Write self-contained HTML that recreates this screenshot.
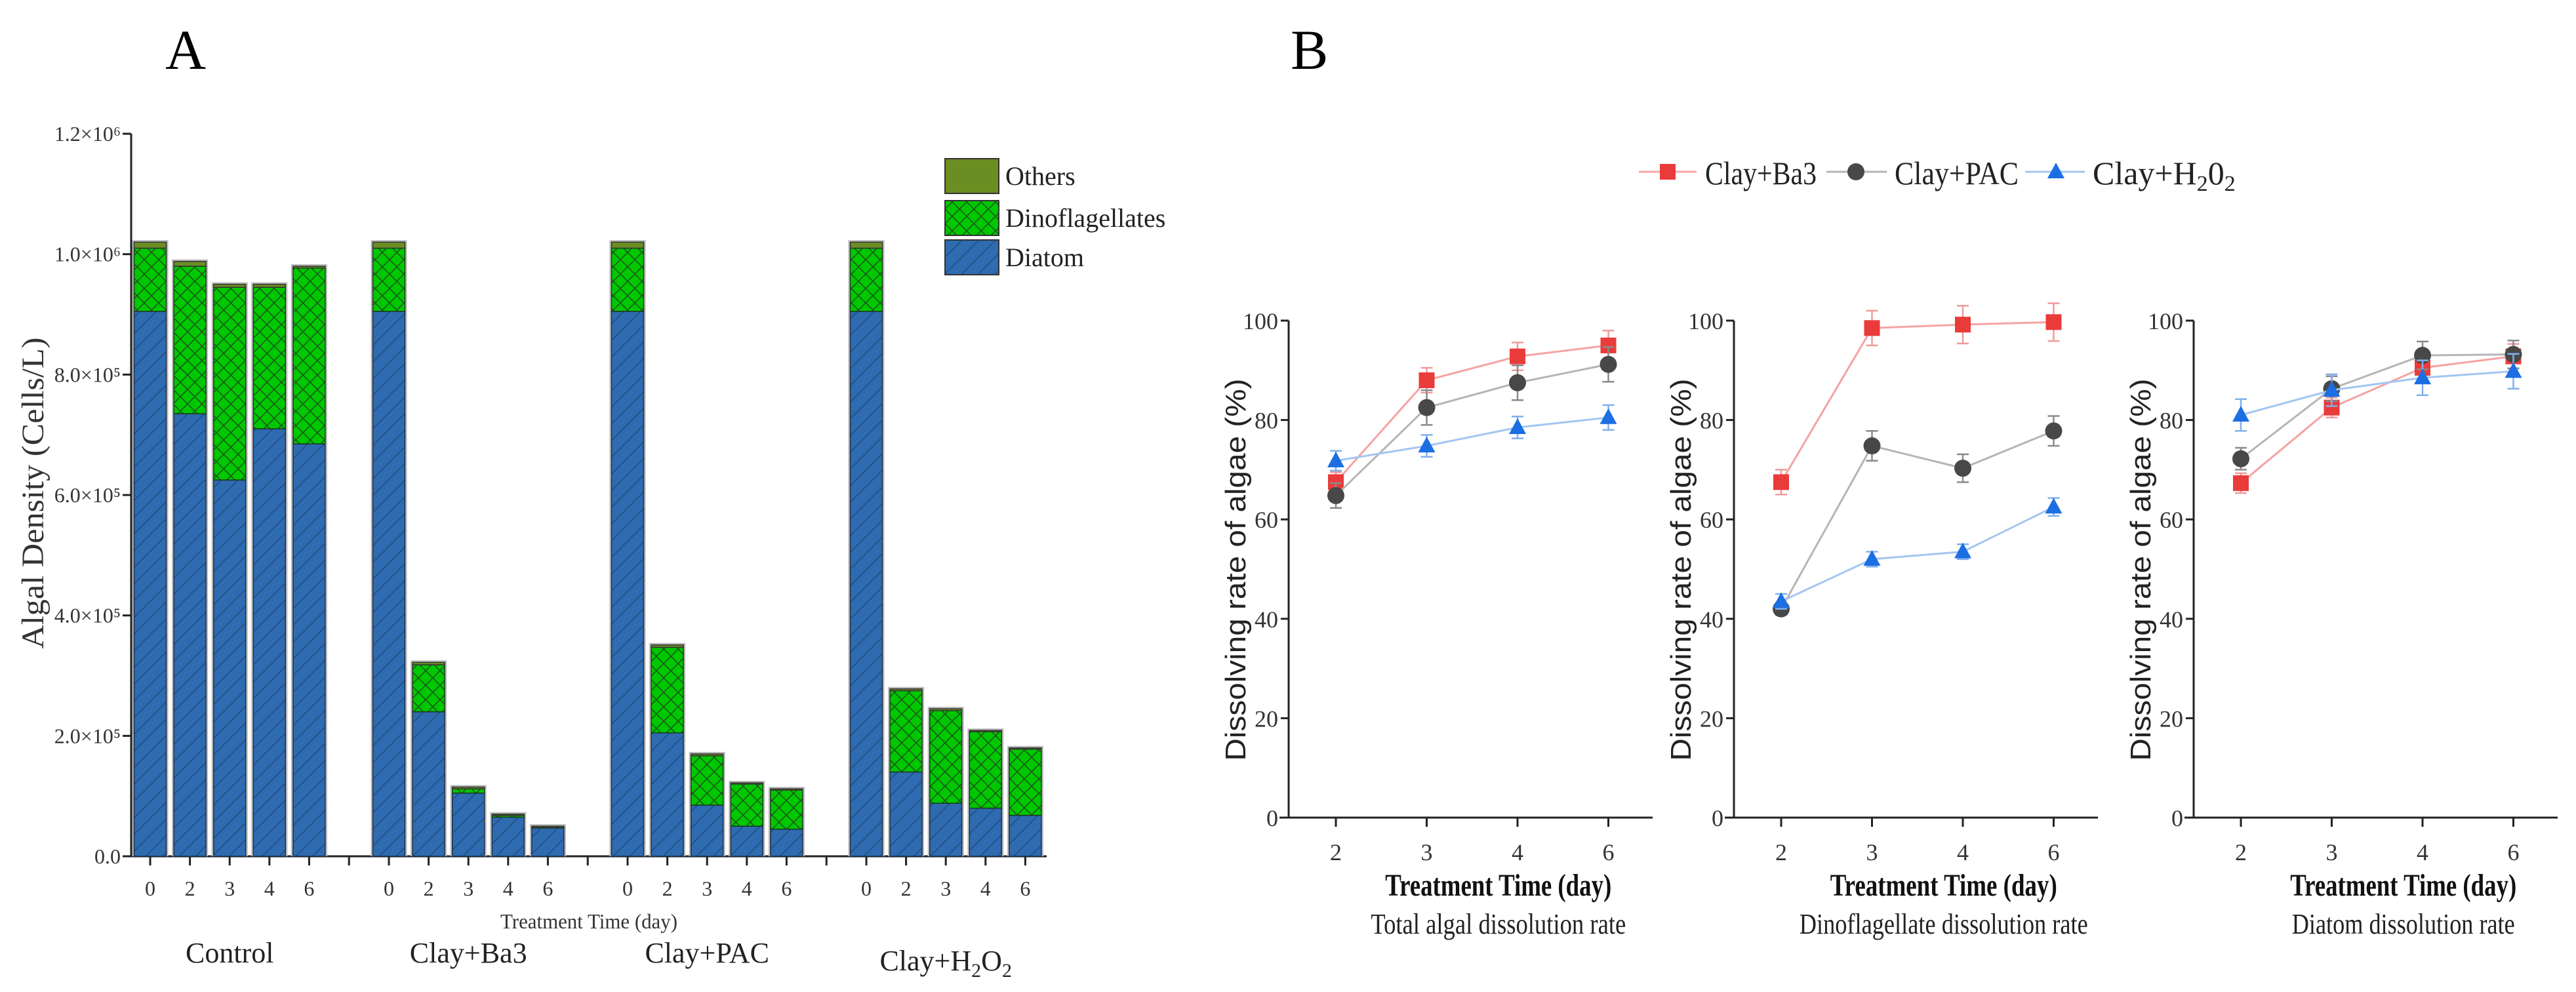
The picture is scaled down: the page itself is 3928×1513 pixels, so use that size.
<!DOCTYPE html>
<html><head><meta charset="utf-8"><style>
html,body{margin:0;padding:0;background:#fff;}
svg{display:block;}
</style></head><body>
<svg id="fig" width="3928" height="1513" viewBox="0 0 3928 1513" xmlns="http://www.w3.org/2000/svg" font-family="Liberation Serif, serif">
<defs>
<pattern id="diag" patternUnits="userSpaceOnUse" width="18" height="18" patternTransform="rotate(45)">
<rect width="18" height="18" fill="#2e6bb0"/><line x1="0" y1="0" x2="0" y2="18" stroke="#1d3f6a" stroke-width="2"/>
</pattern>
<pattern id="cross" patternUnits="userSpaceOnUse" width="22" height="22">
<rect width="22" height="22" fill="#00c800"/><path d="M0 0L22 22M22 0L0 22" stroke="#1a5a1a" stroke-width="1.6"/>
</pattern>
</defs>
<text x="252" y="105" font-size="86">A</text>
<text x="1968" y="105" font-size="86">B</text>
<g id="barChart"></g>
<g id="lineCharts"></g>
</svg>
<script>
// ---- Panel A data (cells/L, in units of 1e5) ----
const groups = ["Control", "Clay+Ba3", "Clay+PAC", "Clay+H2O2"];
const days = ["0", "2", "3", "4", "6"];
const diatom = [[9.05,7.35,6.25,7.10,6.85],[9.05,2.40,1.05,0.65,0.47],[9.05,2.05,0.85,0.50,0.45],[9.05,1.40,0.88,0.80,0.68]];
const dinoflagellates = [[1.05,2.45,3.20,2.35,2.92],[1.05,0.78,0.07,0.03,0.01],[1.05,1.42,0.82,0.70,0.65],[1.05,1.35,1.54,1.27,1.10]];
const others = [[0.10,0.08,0.05,0.05,0.03],[0.10,0.04,0.03,0.02,0.02],[0.10,0.04,0.03,0.02,0.02],[0.10,0.03,0.03,0.02,0.02]];
const yTicksA = [0,2,4,6,8,10,12];
const yTickLabelsA = ["0.0","2.0×10⁵","4.0×10⁵","6.0×10⁵","8.0×10⁵","1.0×10⁶","1.2×10⁶"];
// ---- Panel B data (%) ----
const bDays = ["2","3","4","6"];
const panelTitles = ["Total algal dissolution rate","Dinoflagellate dissolution rate","Diatom dissolution rate"];
const ba3 = [[67.5,88,92.8,95],[67.5,98.5,99.2,99.7],[67.3,82.5,90.5,92.8]];
const pac = [[64.8,82.5,87.5,91.2],[42,74.8,70.3,77.8],[72.2,86.3,93,93.2]];
const h2o2 = [[71.8,74.8,78.5,80.5],[43.5,52,53.5,62.5],[81,86,88.5,89.8]];
const ba3Err = [[2,2.5,2.8,3],[2.5,3.5,3.8,3.8],[2,2,2.5,2.5]];
const pacErr = [[2.5,3.5,3.5,3.5],[1.2,3,2.8,3],[2.2,2.5,2.8,2.8]];
const h2o2Err = [[2,2.2,2.2,2.5],[1.5,1.5,1.5,1.8],[3.2,3.2,3.5,3.5]];
const yTicksB = [0,20,40,60,80,100];

const NS="http://www.w3.org/2000/svg";
function mk(tag,attrs,parent,text){const e=document.createElementNS(NS,tag);for(const k in attrs)e.setAttribute(k,attrs[k]);if(text!==undefined)e.textContent=text;parent.appendChild(e);return e;}

// ---------- Panel A ----------
const A=document.getElementById('barChart');
const ay0=1306, ay1=204, ayMax=12, ax0=200;
const yA=v=>ay0-(v/ayMax)*(ay0-ay1);
const xA=(g,i)=>229+g*364+i*60.6;
const bw=49;
mk('line',{x1:ax0,y1:ay1,x2:ax0,y2:ay0,stroke:'#222','stroke-width':3},A);
mk('line',{x1:188,y1:ay0,x2:1596,y2:ay0,stroke:'#222','stroke-width':3},A);
yTicksA.forEach((t,k)=>{
  const y=yA(t);
  mk('line',{x1:187,y1:y,x2:ax0,y2:y,stroke:'#222','stroke-width':3},A);
  const tx=mk('text',{x:184,y:y+11,'font-size':32,'text-anchor':'end',fill:'#333'},A,yTickLabelsA[k]);
  
  
});
const yt=mk('text',{x:0,y:0,'font-size':48,'text-anchor':'middle',transform:'translate(66,752) rotate(-90)',fill:'#333',textLength:475,lengthAdjust:'spacingAndGlyphs'},A,'Algal Density (Cells/L)');


groups.forEach((gname,g)=>{
  days.forEach((d,i)=>{
    const cx=xA(g,i), x=cx-bw/2;
    const v1=diatom[g][i], v2=v1+dinoflagellates[g][i], v3=v2+others[g][i];
    mk('rect',{x:x-3,y:yA(v3)-3,width:bw+6,height:ay0-yA(v3)+3,fill:'#bbb'},A);
    const r1=mk('rect',{x:x,y:yA(v1),width:bw,height:ay0-yA(v1),fill:'url(#diag)',stroke:'#1c2f4a','stroke-width':1.5},A);
    
    
    const r2=mk('rect',{x:x,y:yA(v2),width:bw,height:yA(v1)-yA(v2),fill:'url(#cross)',stroke:'#1c3a1c','stroke-width':1.5},A);
    
    
    const r3=mk('rect',{x:x,y:yA(v3),width:bw,height:yA(v2)-yA(v3),fill:'#6b8e23',stroke:'#333','stroke-width':1.5},A);
    
    
    mk('line',{x1:cx,y1:ay0,x2:cx,y2:ay0+14,stroke:'#222','stroke-width':3},A);
    const tl=mk('text',{x:cx,y:1366,'font-size':32,'text-anchor':'middle',fill:'#333'},A,d);
    
    
  });
  if(g>0){const sx=xA(g,0)-(xA(g,0)-xA(g-1,4))/2;mk('line',{x1:sx,y1:ay0,x2:sx,y2:ay0+14,stroke:'#222','stroke-width':3},A);}
  const cx=(xA(g,0)+xA(g,4))/2;
  let gl;
  if(gname==="Clay+H2O2"){
    gl=mk('text',{x:cx,y:1480,'font-size':44,'text-anchor':'middle',fill:'#222'},A);
    mk('tspan',{},gl,'Clay+H');mk('tspan',{'font-size':30,dy:10},gl,'2');mk('tspan',{dy:-10},gl,'O');mk('tspan',{'font-size':30,dy:10},gl,'2');
  } else gl=mk('text',{x:cx,y:1468,'font-size':44,'text-anchor':'middle',fill:'#222'},A,gname);
  
  
});
const xt=mk('text',{x:898,y:1416,'font-size':32,'text-anchor':'middle',fill:'#333',textLength:270,lengthAdjust:'spacingAndGlyphs'},A,'Treatment Time (day)');


// legend A
const legA=[['Others','#6b8e23',242],['Dinoflagellates','url(#cross)',306],['Diatom','url(#diag)',366]];
legA.forEach(l=>{
  const r=mk('rect',{x:1441,y:l[2],width:82,height:53,fill:l[1],stroke:'#333','stroke-width':2},A);
  
  
  const t=mk('text',{x:1533,y:l[2]+40,'font-size':40,fill:'#222'},A,l[0]);
  
  
});

// ---------- Panel B ----------
const B=document.getElementById('lineCharts');
const axesX=[1965,2644,3345];
const by0=1247, by1=489;
const yB=v=>by0-(v/100)*(by0-by1);
const series=[
  {name:'Clay+Ba3',vals:ba3,err:ba3Err,line:'#f5a3a3',mark:'#ea3b3b',errc:'#f09a9a',shape:'square'},
  {name:'Clay+PAC',vals:pac,err:pacErr,line:'#b5b5b5',mark:'#484848',errc:'#8a8a8a',shape:'circle'},
  {name:'Clay+H2O2',vals:h2o2,err:h2o2Err,line:'#a3c6f2',mark:'#1c6fe2',errc:'#7fb0ee',shape:'tri'}
];
function marker(s,x,y,p){
  let m;
  if(s.shape==='square')m=mk('rect',{x:x-12,y:y-12,width:24,height:24,fill:s.mark},p);
  else if(s.shape==='circle')m=mk('circle',{cx:x,cy:y,r:13,fill:s.mark},p);
  else m=mk('polygon',{points:`${x},${y-14} ${x+13},${y+10} ${x-13},${y+10}`,fill:s.mark},p);
  return m;
}
const titleW=[345,346,345], subW=[389,440,340];
axesX.forEach((ax,p)=>{
  const g=mk('g',{},B);
  
  
  const xB=i=>ax+72+i*138.5;
  mk('line',{x1:ax,y1:by1,x2:ax,y2:by0,stroke:'#222','stroke-width':3},g);
  mk('line',{x1:ax-14,y1:by0,x2:ax+555,y2:by0,stroke:'#222','stroke-width':3},g);
  yTicksB.forEach(t=>{
    const y=yB(t);
    mk('line',{x1:ax-12,y1:y,x2:ax,y2:y,stroke:'#222','stroke-width':3},g);
    const tl=mk('text',{x:ax-16,y:y+13,'font-size':36,'text-anchor':'end',fill:'#333'},g,String(t));
    
    
  });
  bDays.forEach((d,i)=>{
    mk('line',{x1:xB(i),y1:by0,x2:xB(i),y2:by0+14,stroke:'#222','stroke-width':3},g);
    const tl=mk('text',{x:xB(i),y:1312,'font-size':36,'text-anchor':'middle',fill:'#333'},g,d);
    
    
  });
  const yt=mk('text',{x:0,y:0,'font-size':44,'font-family':'Liberation Sans, sans-serif','text-anchor':'middle',transform:`translate(${ax-66},869) rotate(-90)`,fill:'#222',textLength:583,lengthAdjust:'spacingAndGlyphs'},g,'Dissolving rate of algae (%)');
  
  
  const cx=ax+72+1.5*138.5+40;
  const tt=mk('text',{x:cx,y:1366,'font-size':48,'font-weight':'bold','text-anchor':'middle',fill:'#111',textLength:titleW[p],lengthAdjust:'spacingAndGlyphs'},g,'Treatment Time (day)');
  
  
  const st=mk('text',{x:cx,y:1424,'font-size':44,'text-anchor':'middle',fill:'#222',textLength:subW[p],lengthAdjust:'spacingAndGlyphs'},g,panelTitles[p]);
  
  
  series.forEach(s=>{
    const pts=s.vals[p].map((v,i)=>`${xB(i)},${yB(v)}`).join(' ');
    const pl=mk('polyline',{points:pts,fill:'none',stroke:s.line,'stroke-width':3},g);
    
    
    s.vals[p].forEach((v,i)=>{
      const x=xB(i), e=s.err[p][i];
      const eb=mk('path',{d:`M${x},${yB(v+e)}V${yB(v-e)}M${x-9},${yB(v+e)}H${x+9}M${x-9},${yB(v-e)}H${x+9}`,stroke:s.errc,'stroke-width':2.5,fill:'none'},g);
      
      
      const m=marker(s,x,yB(v),g);
      
      
    });
  });
});
// legend B
const legX=[[2499,2587,2543,2600,170],[2785,2877,2830,2889,189],[3088,3179,3135,3191,185]];
series.forEach((s,k)=>{
  const L=legX[k];
  const lg=mk('g',{},B);
  
  
  mk('line',{x1:L[0],y1:262,x2:L[1],y2:262,stroke:s.line,'stroke-width':3},lg);
  marker(s,L[2],262,lg);
  let t;
  if(s.name==='Clay+H2O2'){
    t=mk('text',{x:L[3],y:281,'font-size':50,fill:'#222'},lg);
    mk('tspan',{},t,'Clay+H');mk('tspan',{'font-size':34,dy:10},t,'2');mk('tspan',{dy:-10},t,'0');mk('tspan',{'font-size':34,dy:10},t,'2');
  } else t=mk('text',{x:L[3],y:281,'font-size':50,fill:'#222',textLength:L[4],lengthAdjust:'spacingAndGlyphs'},lg,s.name);
});
</script>
</body></html>
